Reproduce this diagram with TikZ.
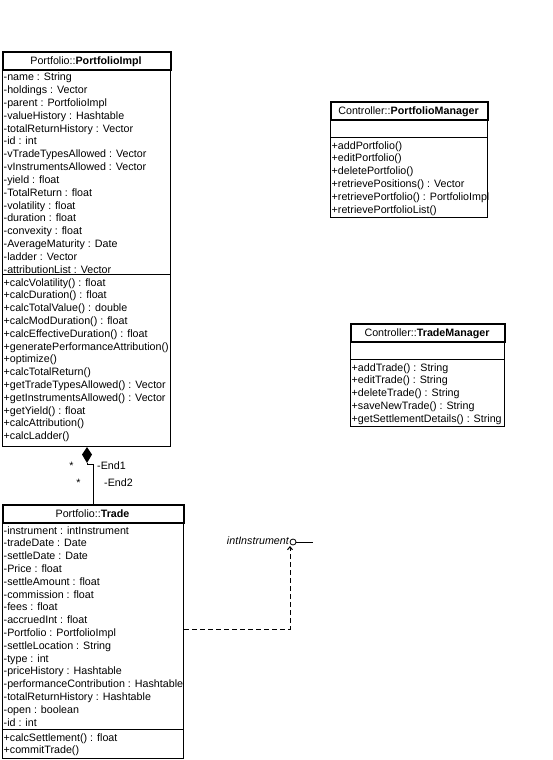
\documentclass[tikz,border=0pt]{standalone}
\usepackage{fontspec}
\setmainfont{Liberation Sans}
\usetikzlibrary{arrows.meta}
\newcommand\umlrows[1]{\begin{tabular}[t]{@{}l@{}}#1\end{tabular}}
\tikzset{
 umlfont/.style={font=\fontsize{10.7}{12.8}\selectfont},
 umltext/.style={umlfont, inner sep=0pt, anchor=base west},
 classbox/.style={draw, line width=1pt, anchor=north west, inner sep=0pt, rectangle},
 headbox/.style={draw, line width=2pt, anchor=north west, inner sep=0pt, rectangle, minimum height=18pt},
 classtitle/.style={umlfont, inner sep=0pt, anchor=base},
 sepline/.style={line width=1pt},
 assocline/.style={line width=1pt},
 realline/.style={line width=1pt, dash pattern=on 5pt off 3pt},
}
\begin{document}
\begin{tikzpicture}[x=1pt,y=-1pt]
\useasboundingbox (0,0) rectangle (552,760);

% ---------- PortfolioImpl ----------
\node[classbox, minimum width=168pt, minimum height=395pt] (pi) at (2,51) {};
\node[headbox, minimum width=168pt] (pihead) at (2,51) {};
\node[classtitle] (pititle) at (86,64) {Portfolio::\textbf{PortfolioImpl}};
\draw[sepline] (pi.west |- 0,274) -- (pi.east |- 0,274);
\node[umltext] (piattr) at (3.5,81) {\umlrows{-name : String\\-holdings : Vector\\-parent : PortfolioImpl\\-valueHistory : Hashtable\\-totalReturnHistory : Vector\\-id : int\\-vTradeTypesAllowed : Vector\\-vInstrumentsAllowed : Vector\\-yield : float\\-TotalReturn : float\\-volatility : float\\-duration : float\\-convexity : float\\-AverageMaturity : Date\\-ladder : Vector\\-attributionList : Vector}};
\node[umltext] (piops) at (3.5,286) {\umlrows{+calcVolatility() : float\\+calcDuration() : float\\+calcTotalValue() : double\\+calcModDuration() : float\\+calcEffectiveDuration() : float\\+generatePerformanceAttribution()\\+optimize()\\+calcTotalReturn()\\+getTradeTypesAllowed() : Vector\\+getInstrumentsAllowed() : Vector\\+getYield() : float\\+calcAttribution()\\+calcLadder()}};

% ---------- Trade ----------
\node[classbox, minimum width=181pt, minimum height=254pt] (tr) at (2,504) {};
\node[headbox, minimum width=181pt] (trhead) at (2,504) {};
\node[classtitle] (trtitle) at (92.5,517) {Portfolio::\textbf{Trade}};
\draw[sepline] (tr.west |- 0,729) -- (tr.east |- 0,729);
\node[umltext] (trattr) at (3.5,534) {\umlrows{-instrument : intInstrument\\-tradeDate : Date\\-settleDate : Date\\-Price : float\\-settleAmount : float\\-commission : float\\-fees : float\\-accruedInt : float\\-Portfolio : PortfolioImpl\\-settleLocation : String\\-type : int\\-priceHistory : Hashtable\\-performanceContribution : Hashtable\\-totalReturnHistory : Hashtable\\-open : boolean\\-id : int}};
\node[umltext] (trops) at (3.5,741) {\umlrows{+calcSettlement() : float\\+commitTrade()}};

% ---------- PortfolioManager ----------
\node[classbox, minimum width=157pt, minimum height=116pt] (pm) at (330,101) {};
\node[headbox, minimum width=157pt] (pmhead) at (330,101) {};
\node[classtitle] (pmtitle) at (408.5,114) {Controller::\textbf{PortfolioManager}};
\draw[sepline] (pm.west |- 0,137) -- (pm.east |- 0,137);
\node[umltext] (pmops) at (331.5,149) {\umlrows{+addPortfolio()\\+editPortfolio()\\+deletePortfolio()\\+retrievePositions() : Vector\\+retrievePortfolio() : PortfolioImpl\\+retrievePortfolioList()}};

% ---------- TradeManager ----------
\node[classbox, minimum width=154pt, minimum height=103pt] (tm) at (350,323) {};
\node[headbox, minimum width=154pt] (tmhead) at (350,323) {};
\node[classtitle] (tmtitle) at (427,336) {Controller::\textbf{TradeManager}};
\draw[sepline] (tm.west |- 0,359) -- (tm.east |- 0,359);
\node[umltext] (tmops) at (351.5,371) {\umlrows{+addTrade() : String\\+editTrade() : String\\+deleteTrade() : String\\+saveNewTrade() : String\\+getSettlementDetails() : String}};

% ---------- composition PortfolioImpl <>-- Trade ----------
\coordinate (dtop) at (pi.south -| 87,0);
\coordinate (dbot) at (87,463);
\fill (dtop) -- (92,454.5) -- (dbot) -- (82,454.5) -- cycle;
\draw[assocline] (dbot) -- (87,464.5) -| (tr.north -| 93,0);
\node[umlfont, inner sep=0pt] (m1) at (71.5,466) {*};
\node[umlfont, inner sep=0pt] (m2) at (78.5,483) {*};
\node[umlfont, inner sep=0pt, anchor=west] (r1) at (97,466) {-End1};
\node[umlfont, inner sep=0pt, anchor=west] (r2) at (104,482.5) {-End2};

% ---------- interface lollipop ----------
\node[draw, circle, line width=0.8pt, minimum size=6pt, inner sep=0pt] (iface) at (293,542) {};
\coordinate (ifend) at (313,542);
\draw[line width=1pt] (iface.east) -- (ifend);
\node[umlfont, inner sep=0pt, anchor=east, font=\fontsize{10.7}{12.8}\selectfont\itshape] (iflabel) at (289,541) {intInstrument};
\coordinate (tcorner) at (290,629);
\draw[realline, -{Straight Barb[length=3pt,width=5pt]}] (tr.east |- tcorner) -- (tcorner) -- (290,546);
\end{tikzpicture}
\end{document}
